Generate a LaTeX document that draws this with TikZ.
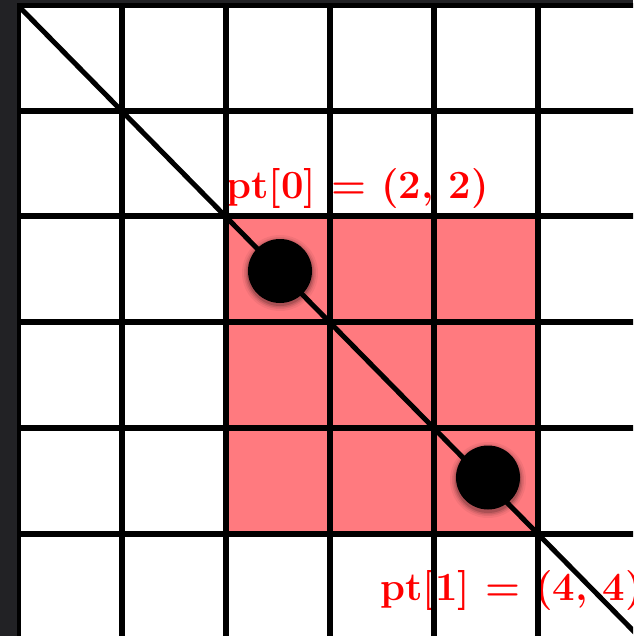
\documentclass[tikz,border=0pt]{standalone}
\definecolor{darkbg}{RGB}{34,34,37}
\definecolor{cellpink}{RGB}{255,122,127}
\definecolor{labelred}{RGB}{255,0,0}
\tikzset{
  gridline/.style={line width=6pt, black},
  ptdot/.style={circle, fill=black, inner sep=0pt, minimum size=64pt},
  ptlabel/.style={anchor=base west, inner sep=0pt, text=labelred, font=\fontsize{40}{42}\selectfont\bfseries},
}
\begin{document}
\begin{tikzpicture}[x=1pt,y=-1pt]
\useasboundingbox (0,0) rectangle (633,636);
\fill[darkbg] (0,0) rectangle (633,636);
\fill[white] (17,4) rectangle (633,636);
\begin{scope}
\clip (17,4) rectangle (633,636);
% highlighted cells
\fill[cellpink] (225.5,216.4) rectangle (537.5,533.5);
% labels (drawn under grid)
\node[ptlabel] (l0) at (226,199) {pt[0] = (2, 2)};
\node[ptlabel] (l1) at (380,600) {pt[1] = (4, 4)};
% grid
\foreach \i in {0,...,5} {
  \draw[gridline] ({17.5+104*\i},0) -- ({17.5+104*\i},640);
  \draw[gridline] (0,{5+105.7*\i}) -- (640,{5+105.7*\i});
}
% diagonal
\coordinate (d0) at (17.5,5);
\coordinate (d1) at ({17.5+104*6.2},{5+105.7*6.2});
\draw[line width=5pt] (d0) -- (d1);
% shadows
\foreach \r/\o in {38/0.05,36/0.07,34.5/0.1,33/0.15} {
  \fill[black,opacity=\o] (280,273) circle (\r);
  \fill[black,opacity=\o] (488,480) circle (\r);
}
\node[ptdot] (p0) at (280,271) {};
\node[ptdot] (p1) at (488,477.5) {};
\end{scope}
\end{tikzpicture}
\end{document}
